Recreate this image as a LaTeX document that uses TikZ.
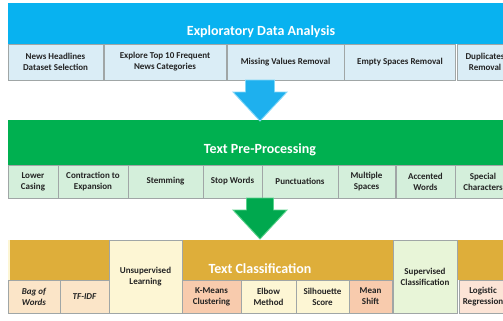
\documentclass[tikz,border=0pt]{standalone}
\usepackage{fontspec}
\setmainfont{Carlito}
\usetikzlibrary{calc}
\definecolor{edablue}{RGB}{8,178,240}
\definecolor{tppgreen}{RGB}{0,176,80}
\definecolor{tcgold}{RGB}{222,174,58}
\definecolor{edacell}{RGB}{218,237,246}
\definecolor{tppcell}{RGB}{212,239,219}
\definecolor{peach}{RGB}{251,229,200}
\definecolor{ltyellow}{RGB}{253,246,212}
\definecolor{salmon}{RGB}{248,203,173}
\definecolor{ltgreen}{RGB}{232,245,216}
\definecolor{ltpeach}{RGB}{252,228,214}
\definecolor{cellline}{RGB}{160,166,166}
\definecolor{celltext}{RGB}{35,35,35}
\definecolor{arrblue}{RGB}{30,176,238}
\definecolor{arrblueedge}{RGB}{130,215,248}
\definecolor{arrgreen}{RGB}{0,168,78}
\definecolor{arrgreenedge}{RGB}{90,210,140}
\begin{document}
\begin{tikzpicture}[x=1pt,y=-1pt,
  band/.style={anchor=north west, inner sep=0pt, outer sep=0pt, minimum width=520pt},
  cell/.style={draw=cellline, line width=0.8pt, inner sep=1pt, outer sep=0pt, align=center,
    font=\fontsize{9}{11}\selectfont\bfseries, text=celltext},
  bandtitle/.style={text=white, font=\fontsize{14}{16}\selectfont\bfseries, inner sep=0pt},
  blockarrow/.style={line width=0.9pt, line join=miter}
]
\useasboundingbox (0,0) rectangle (503,321);
\clip (0,0) rectangle (503,321);

% ---------- Exploratory Data Analysis ----------
\node[band, fill=edablue, minimum height=41pt] (eda) at (8,3) {};
\node[bandtitle] (edat) at (261,32) {Exploratory Data Analysis};
\begin{scope}[every node/.style={cell, fill=edacell, minimum height=36pt}]
\node[minimum width=95pt]  (e1) at (55.5,62) {News Headlines\\Dataset Selection};
\node[minimum width=122pt] (e2) at (165,62) {Explore Top 10 Frequent\\News Categories};
\node[minimum width=117pt] (e3) at (285.5,62) {Missing Values Removal};
\node[minimum width=111pt] (e4) at (400,62) {Empty Spaces Removal};
\node[minimum width=56pt]  (e5) at (485,62) {Duplicates\\Removal};
\end{scope}

% ---------- Text Pre-Processing ----------
\node[band, fill=tppgreen, minimum height=45pt] (tpp) at (8,120) {};
\node[bandtitle] (tppt) at (260,150) {Text Pre-Processing};
\begin{scope}[every node/.style={cell, fill=tppcell, minimum height=33pt}]
\node[minimum width=50pt] (p1) at (33,181.5) {Lower\\Casing};
\node[minimum width=70pt] (p2) at (93,181.5) {Contraction to\\Expansion};
\node[minimum width=75pt] (p3) at (165.5,181.5) {Stemming};
\node[minimum width=59pt] (p4) at (232.5,181.5) {Stop Words};
\node[minimum width=76pt] (p5) at (300,181.5) {Punctuations};
\node[minimum width=57pt] (p6) at (366.5,181.5) {Multiple\\Spaces};
\node[minimum width=59pt] (p7) at (425.5,181.5) {Accented\\Words};
\node[minimum width=56pt] (p8) at (483,181.5) {Special\\Characters};
\end{scope}

% ---------- Text Classification ----------
\node[band, fill=tcgold, minimum height=40pt] (tc) at (8,240) {};
\fill[ltyellow] (8,240) rectangle (10,280);
\node[bandtitle] (tct) at (260,269) {Text Classification};
\begin{scope}[every node/.style={cell, minimum height=33pt}]
\node[fill=peach, minimum width=52pt, font=\fontsize{9}{11}\selectfont\bfseries\itshape] (c1) at (34,296.5) {Bag of\\Words};
\node[fill=peach, minimum width=49pt, font=\fontsize{9}{11}\selectfont\bfseries\itshape] (c2) at (84.5,296.5) {TF-IDF};
\node[fill=ltyellow, minimum width=73pt, minimum height=73pt] (c3) at (145.5,276.5) {Unsupervised\\Learning};
\node[fill=salmon, minimum width=59pt] (c4) at (211.5,296.5) {K-Means\\Clustering};
\node[fill=ltyellow, minimum width=55pt] (c5) at (268.5,296.5) {Elbow\\Method};
\node[fill=ltyellow, minimum width=53pt] (c6) at (322.5,296.5) {Silhouette\\Score};
\node[fill=salmon, minimum width=43pt] (c7) at (370.5,296.5) {Mean\\Shift};
\node[fill=ltgreen, minimum width=64pt, minimum height=73pt] (c8) at (425,276.5) {Supervised\\Classification};
\node[fill=ltpeach, minimum width=48pt] (c9) at (483,296.5) {Logistic\\Regression};
\end{scope}

% ---------- block arrows ----------
\coordinate (a1s) at (260,80);
\coordinate (a1e) at (260,121);
\draw[blockarrow, draw=arrblueedge, fill=arrblue]
  ($(a1s)+(-14.5,0)$) -- ($(a1s)+(14.5,0)$) -- ($(a1s)+(14.5,12)$) -- ($(a1s)+(27,12)$)
  -- (a1e) -- ($(a1s)+(-27,12)$) -- ($(a1s)+(-14.5,12)$) -- cycle;
\coordinate (a2s) at (260,198);
\coordinate (a2e) at (260,239);
\draw[blockarrow, draw=arrgreenedge, fill=arrgreen]
  ($(a2s)+(-13.5,0)$) -- ($(a2s)+(13.5,0)$) -- ($(a2s)+(13.5,12)$) -- ($(a2s)+(27,12)$)
  -- (a2e) -- ($(a2s)+(-27,12)$) -- ($(a2s)+(-13.5,12)$) -- cycle;
\end{tikzpicture}
\end{document}
